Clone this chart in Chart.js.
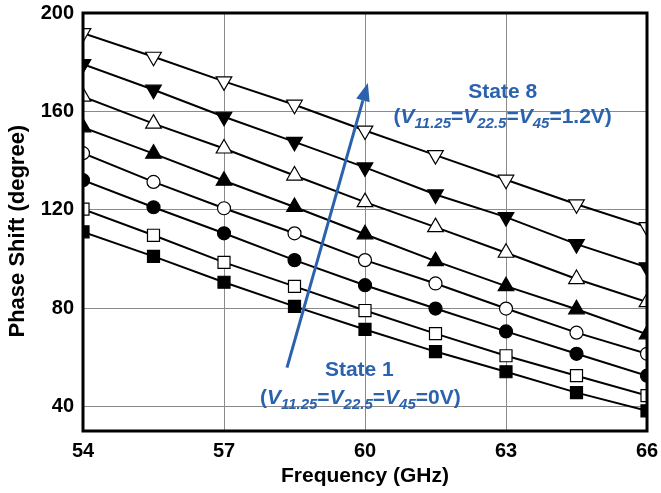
<!DOCTYPE html>
<html>
<head>
<meta charset="utf-8">
<script src="https://cdn.jsdelivr.net/npm/chart.js@4"></script>
<style>
  html, body { margin: 0; padding: 0; background: #fff; }
  #wrap { width: 661px; height: 493px; }
</style>
</head>
<body>
<div id="wrap"><canvas id="phaseChart"></canvas></div>
<script>
const freqs = [54, 55.5, 57, 58.5, 60, 61.5, 63, 64.5, 66];
const xTicks = [54, 57, 60, 63, 66];
const yTicks = [40, 80, 120, 160, 200];

// phase shift per state (degree)
const state1 = [111, 101, 90.5, 80.7, 71.3, 62.3, 54.1, 45.6, 38.2];
const state2 = [120.2, 109.6, 98.6, 88.8, 79, 69.6, 60.6, 52.5, 44.4];
const state3 = [132, 121, 110.4, 99.5, 89.3, 79.8, 70.5, 61.4, 52.5];
const state4 = [143, 131.3, 120.6, 110.4, 99.5, 90, 79.8, 70, 61.4];
const state5 = [153.5, 142.8, 131.8, 121.1, 110, 99.1, 88.9, 79.5, 69.3];
const state6 = [166, 155, 144.9, 133.9, 123.1, 112.9, 102.5, 91.8, 82.4];
const state7 = [179.2, 168.8, 157.8, 147.6, 137.2, 126.2, 117, 106, 96.6];
const state8 = [191.8, 182.2, 172.2, 162.7, 152.2, 142.2, 132.2, 122.2, 112.9];

const blue = "#2a62ad";
const font = "'Liberation Sans', Arial, sans-serif";

function series(vals, style, filled, rot) {
  return {
    data: freqs.map((f, i) => ({ x: f, y: vals[i] })),
    borderColor: "#000",
    borderWidth: 2,
    pointStyle: style,
    pointRotation: rot || 0,
    pointRadius: style === "circle" ? 6.5 : (style === "rect" ? 8.5 : 9),
    pointBorderWidth: 1.2,
    pointBorderColor: "#000",
    pointBackgroundColor: filled ? "#000" : "#fff",
    tension: 0,
    clip: 0,
  };
}

// rich text: list of [text, isSub, isItalic]
function drawRich(ctx, runs, cx, baseY, size, subSize) {
  const fontOf = r => (r[2] ? "italic " : "") + "bold " + (r[1] ? subSize : size) + "px " + font;
  let total = 0;
  runs.forEach(r => {
    ctx.font = fontOf(r);
    total += ctx.measureText(r[0]).width;
  });
  let x = cx - total / 2;
  runs.forEach(r => {
    ctx.font = fontOf(r);
    ctx.fillText(r[0], x, r[1] ? baseY + 5 : baseY);
    x += ctx.measureText(r[0]).width;
  });
}

function voltRuns(v) {
  return [["(", 0, 0], ["V", 0, 1], ["11.25", 1, 1], ["=", 0, 0], ["V", 0, 1], ["22.5", 1, 1],
    ["=", 0, 0], ["V", 0, 1], ["45", 1, 1], ["=" + v + ")", 0, 0]];
}

const annotate = {
  id: "annotate",
  afterDraw(chart) {
    const ctx = chart.ctx;
    const xs = chart.scales.x, ys = chart.scales.y;
    const a = chart.chartArea;
    ctx.save();
    // frame
    ctx.strokeStyle = "#000";
    ctx.lineWidth = 3;
    ctx.strokeRect(a.left, a.top, a.right - a.left, a.bottom - a.top);

    // arrow State 1 -> State 8
    const x0 = xs.getPixelForValue(58.34), y0 = ys.getPixelForValue(55.8);
    const x1 = xs.getPixelForValue(60.06), y1 = ys.getPixelForValue(171.5);
    const ang = Math.atan2(y1 - y0, x1 - x0);
    const hl = 18, hw = 7;
    const bx = x1 - hl * Math.cos(ang), by = y1 - hl * Math.sin(ang);
    ctx.strokeStyle = blue;
    ctx.fillStyle = blue;
    ctx.lineWidth = 3;
    ctx.beginPath();
    ctx.moveTo(x0, y0);
    ctx.lineTo(bx, by);
    ctx.stroke();
    ctx.beginPath();
    ctx.moveTo(x1, y1);
    ctx.lineTo(bx + hw * Math.sin(ang), by - hw * Math.cos(ang));
    ctx.lineTo(bx - hw * Math.sin(ang), by + hw * Math.cos(ang));
    ctx.closePath();
    ctx.fill();

    // labels
    ctx.textBaseline = "alphabetic";
    ctx.textAlign = "left";
    ctx.font = "bold 21px " + font;
    let t = "State 8";
    ctx.fillText(t, xs.getPixelForValue(62.93) - ctx.measureText(t).width / 2, ys.getPixelForValue(165.6));
    drawRich(ctx, voltRuns("1.2V"), xs.getPixelForValue(62.93), ys.getPixelForValue(155.4), 21, 15);
    ctx.font = "bold 21px " + font;
    t = "State 1";
    ctx.fillText(t, xs.getPixelForValue(59.88) - ctx.measureText(t).width / 2, ys.getPixelForValue(52.5));
    drawRich(ctx, voltRuns("0V"), xs.getPixelForValue(59.9), ys.getPixelForValue(41.1), 21, 15);
    ctx.restore();
  }
};

new Chart(document.getElementById("phaseChart"), {
  type: "line",
  data: {
    datasets: [
      series(state1, "rect", true),
      series(state2, "rect", false),
      series(state3, "circle", true),
      series(state4, "circle", false),
      series(state5, "triangle", true),
      series(state6, "triangle", false),
      series(state7, "triangle", true, 180),
      series(state8, "triangle", false, 180),
    ],
  },
  options: {
    responsive: true,
    maintainAspectRatio: false,
    animation: false,
    layout: { padding: { top: 13, right: 14, left: 0, bottom: 0 } },
    plugins: { legend: { display: false }, tooltip: { enabled: false } },
    scales: {
      x: {
        type: "linear",
        min: 54,
        max: 66,
        afterBuildTicks: s => { s.ticks = xTicks.map(v => ({ value: v })); },
        afterFit: s => { s.height = 62; s.paddingLeft = 0; s.paddingRight = 0; },
        grid: { color: "#8a8a8a", lineWidth: 1, drawTicks: false },
        border: { display: false },
        ticks: { color: "#000", padding: 8, font: { family: font, size: 20, weight: "bold" } },
        title: {
          display: true,
          text: "Frequency (GHz)",
          color: "#000",
          padding: { top: 2, bottom: 4 },
          font: { family: font, size: 21, weight: "bold" },
        },
      },
      y: {
        min: 30,
        max: 200,
        afterBuildTicks: s => { s.ticks = yTicks.map(v => ({ value: v })); },
        afterFit: s => { s.width = 83; s.paddingTop = 0; s.paddingBottom = 0; },
        grid: { color: "#8a8a8a", lineWidth: 1, drawTicks: false },
        border: { display: false },
        ticks: { color: "#000", padding: 9, font: { family: font, size: 20, weight: "bold" } },
        title: {
          display: true,
          text: "Phase Shift (degree)   ",
          color: "#000",
          padding: { top: 5, bottom: 0 },
          font: { family: font, size: 22, weight: "bold" },
        },
      },
    },
  },
  plugins: [annotate],
});
</script>
</body>
</html>
